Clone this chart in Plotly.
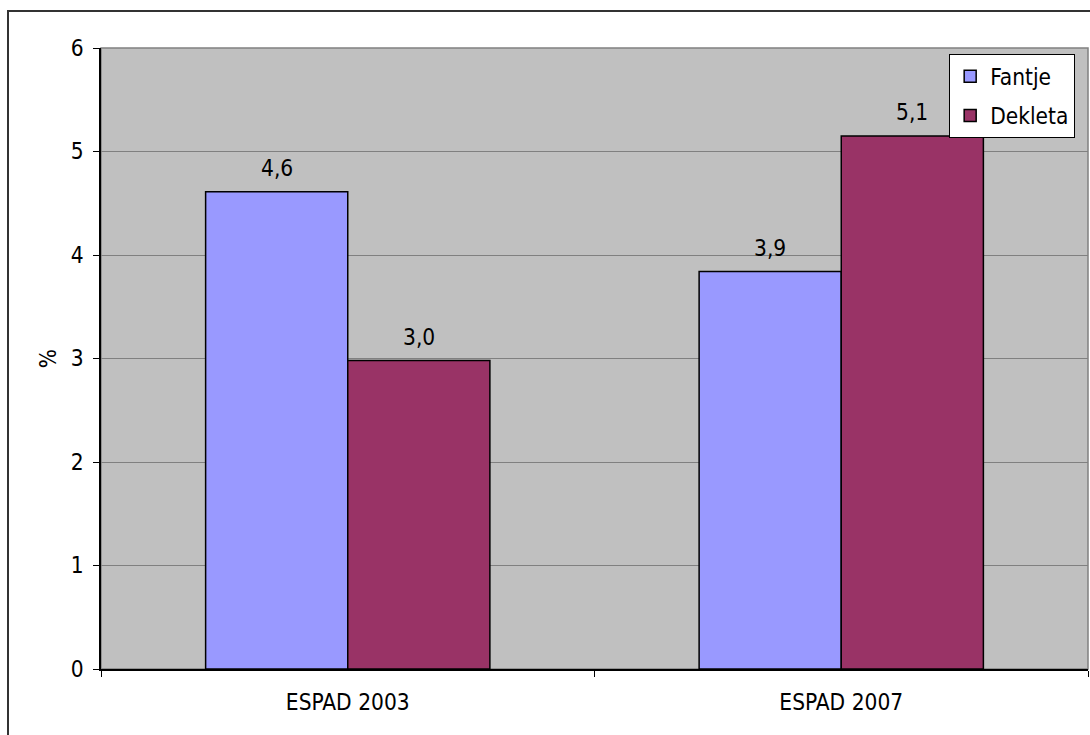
import plotly.graph_objects as go

categories = ["ESPAD 2003", "ESPAD 2007"]
series_names = ["Fantje", "Dekleta"]
fantje_values = [4.61, 3.84]
dekleta_values = [2.98, 5.15]
fantje_labels = ["4,6", "3,9"]
dekleta_labels = ["3,0", "5,1"]
y_ticks = [0, 1, 2, 3, 4, 5, 6]
colors = ["#9999FF", "#993366"]

FONT = "DejaVu Sans Condensed, DejaVu Sans, sans-serif"
FS = 22.5

fig = go.Figure()
for name, vals, col, grp in [(series_names[0], fantje_values, colors[0], "g1"),
                             (series_names[1], dekleta_values, colors[1], "g2")]:
    fig.add_trace(go.Bar(
        x=categories, y=vals, name=name, legendgroup=grp,
        marker=dict(color=col, line=dict(color="black", width=1.5)),
    ))

# data labels via annotations positioned on the axes
for vals, labels, shift in [(fantje_values, fantje_labels, -71), (dekleta_values, dekleta_labels, 71)]:
    for c, v, t in zip(categories, vals, labels):
        fig.add_annotation(x=c, y=v, text=t, showarrow=False, xshift=shift, yshift=9,
                           yanchor="bottom", font=dict(family=FONT, size=FS, color="black"))

fig.update_layout(
    width=1090, height=735,
    margin=dict(l=101, r=2, t=48, b=66),
    paper_bgcolor="white", plot_bgcolor="#C0C0C0",
    barmode="group", bargap=0.424, bargroupgap=0,
    font=dict(family=FONT, size=FS, color="black"),
    legend=dict(x=0.987, y=0.99, xanchor="right", yanchor="top",
                bgcolor="white", bordercolor="black", borderwidth=1,
                tracegroupgap=7, itemwidth=30, font=dict(family=FONT, size=FS),
                itemclick=False),
    showlegend=True,
    xaxis=dict(showline=True, linecolor="black", linewidth=1.5, ticks="outside",
               tickson="boundaries", ticklen=6, tickcolor="black", showgrid=False,
               ticklabelstandoff=12),
    yaxis=dict(range=[0, 6], tickvals=y_ticks, showline=True, linecolor="black", linewidth=1.5,
               ticks="outside", ticklen=6, tickcolor="black", showgrid=True,
               gridcolor="#808080", gridwidth=1, zeroline=False,
               ticklabelstandoff=5,
               title=dict(text="%", standoff=8, font=dict(family=FONT, size=FS))),
    shapes=[
        dict(type="rect", xref="paper", yref="paper", x0=0, x1=1, y0=0, y1=1,
             line=dict(color="#808080", width=1.5), layer="below"),
        dict(type="rect", xref="paper", yref="paper",
             x0=(8 - 101) / 987, x1=(1096 - 101) / 987,
             y0=(669 - 742) / 621, y1=(669 - 11) / 621,
             line=dict(color="#333333", width=2), layer="above"),
    ],
)

fig.write_html("out.html", config={"displayModeBar": False},
               post_script="document.body.style.margin='0';document.body.style.overflow='hidden';")
